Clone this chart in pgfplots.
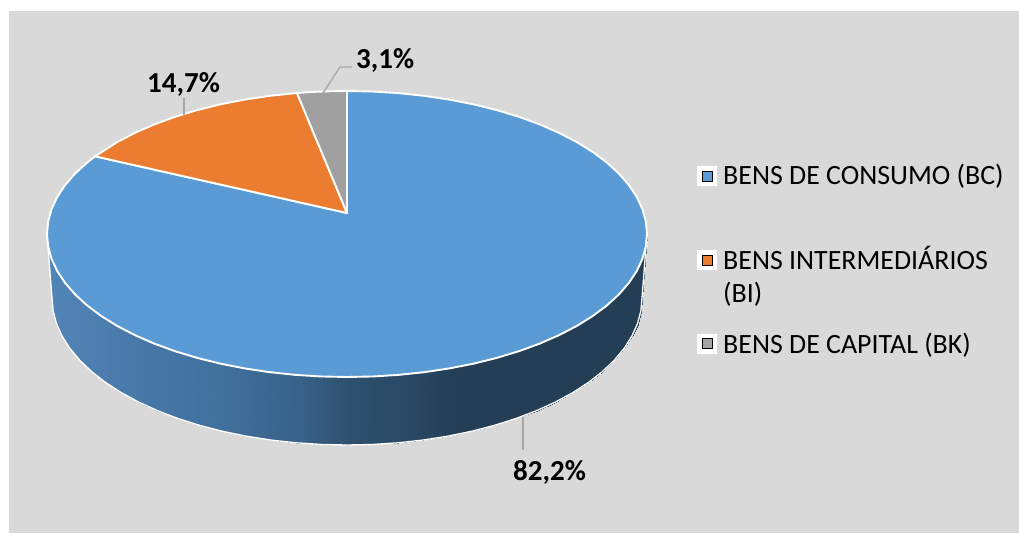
\documentclass[border=0pt]{standalone}
\usepackage{pgfplots}
\pgfplotsset{compat=1.18}
\usepackage{pgfplotstable}
\usepackage{fontspec}
\setmainfont{Carlito}
\definecolor{BC}{HTML}{5B9BD5}
\definecolor{BI}{HTML}{EC7C30}
\definecolor{BK}{HTML}{A5A5A5}
\definecolor{fundo}{HTML}{D9D9D9}
\definecolor{guia}{HTML}{A6A6A6}

% slices: angle round the top ellipse, k=1 on the rim, k=0 at the apex
\pgfplotstableread[row sep=\\]{
a k\\
90 1\\ 85 1\\ 80 1\\ 75 1\\ 70 1\\ 65 1\\ 60 1\\ 55 1\\ 50 1\\ 45 1\\ 40 1\\ 35 1\\ 30 1\\ 25 1\\ 20 1\\ 15 1\\ 10 1\\ 5 1\\ 0 1\\
-5 1\\ -10 1\\ -15 1\\ -20 1\\ -25 1\\ -30 1\\ -35 1\\ -40 1\\ -45 1\\ -50 1\\ -55 1\\ -60 1\\ -65 1\\ -70 1\\ -75 1\\ -80 1\\ -85 1\\ -90 1\\
-95 1\\ -100 1\\ -105 1\\ -110 1\\ -115 1\\ -120 1\\ -125 1\\ -130 1\\ -135 1\\ -140 1\\ -145 1\\ -150 1\\ -155 1\\ -160 1\\ -165 1\\ -170 1\\ -175 1\\ -180 1\\
-185 1\\ -190 1\\ -195 1\\ -200 1\\ -205 1\\ -210 1\\ -212.9 1\\ 0 0\\
}\fatiaBC
\pgfplotstableread[row sep=\\]{
a k\\
147.1 1\\ 140 1\\ 135 1\\ 130 1\\ 125 1\\ 120 1\\ 115 1\\ 110 1\\ 105 1\\ 99.6 1\\ 0 0\\
}\fatiaBI
\pgfplotstableread[row sep=\\]{
a k\\
99.6 1\\ 97 1\\ 94 1\\ 90 1\\ 0 0\\
}\fatiaBK
% side wall: b=0 on the top rim, b=1 on the lower rim
\pgfplotstableread[row sep=\\]{
a b\\
180 0\\ 185 0\\ 190 0\\ 195 0\\ 200 0\\ 205 0\\ 210 0\\ 215 0\\ 220 0\\ 225 0\\ 230 0\\ 235 0\\ 240 0\\ 245 0\\ 250 0\\ 255 0\\ 260 0\\ 265 0\\ 270 0\\
275 0\\ 280 0\\ 285 0\\ 290 0\\ 295 0\\ 300 0\\ 305 0\\ 310 0\\ 315 0\\ 320 0\\ 325 0\\ 330 0\\ 335 0\\ 340 0\\ 345 0\\ 350 0\\ 355 0\\ 360 0\\
180 1\\ 185 1\\ 190 1\\ 195 1\\ 200 1\\ 205 1\\ 210 1\\ 215 1\\ 220 1\\ 225 1\\ 230 1\\ 235 1\\ 240 1\\ 245 1\\ 250 1\\ 255 1\\ 260 1\\ 265 1\\ 270 1\\
275 1\\ 280 1\\ 285 1\\ 290 1\\ 295 1\\ 300 1\\ 305 1\\ 310 1\\ 315 1\\ 320 1\\ 325 1\\ 330 1\\ 335 1\\ 340 1\\ 345 1\\ 350 1\\ 355 1\\ 360 1\\
}\lateral
\pgfplotstableread[row sep=\\]{
a b\\
180 0\\ 180 1\\ 185 1\\ 190 1\\ 195 1\\ 200 1\\ 205 1\\ 210 1\\ 215 1\\ 220 1\\ 225 1\\ 230 1\\ 235 1\\ 240 1\\ 245 1\\ 250 1\\ 255 1\\ 260 1\\ 265 1\\ 270 1\\
275 1\\ 280 1\\ 285 1\\ 290 1\\ 295 1\\ 300 1\\ 305 1\\ 310 1\\ 315 1\\ 320 1\\ 325 1\\ 330 1\\ 335 1\\ 340 1\\ 345 1\\ 350 1\\ 355 1\\ 360 1\\ 360 0\\
}\contorno

\pgfplotsset{
  fatia/.style={draw=white,line width=1.9pt,line join=round,no marks},
  topo/.style={/pgfplots/table/x expr=347+300*\thisrow{k}*cos(\thisrow{a}),
    /pgfplots/table/y expr=234-21*(1-\thisrow{k})-143*\thisrow{k}*sin(\thisrow{a})},
  parede/.style={/pgfplots/table/x expr=347+(300-5*\thisrow{b})*cos(\thisrow{a}),
    /pgfplots/table/y expr=234+64*\thisrow{b}-(143+4*\thisrow{b})*sin(\thisrow{a})},
}

\begin{document}
\begin{tikzpicture}
\begin{axis}[
  x=1pt,y=1pt,
  xmin=0,xmax=1019,ymin=0,ymax=533,
  y dir=reverse,
  axis lines=none,
  scale only axis,
  clip=true,
  point meta min=47,point meta max=648,
  colormap={lado}{
    rgb255(47pt)=(82,133,184)
    rgb255(140pt)=(72,120,168)
    rgb255(220pt)=(64,112,156)
    rgb255(300pt)=(56,98,136)
    rgb255(350pt)=(46,80,110)
    rgb255(400pt)=(42,74,102)
    rgb255(460pt)=(35,62,85)
    rgb255(648pt)=(35,62,85)},
]
% background
\addplot[draw=none,fill=white] coordinates {(0,0) (1019,0) (1019,533) (0,533)} -- cycle;
\addplot[draw=none,fill=fundo] coordinates {(9,11) (1019,11) (1019,533) (9,533)} -- cycle;

% side wall
\addplot[surf,shader=interp,mesh/rows=2,mesh/cols=37,point meta=x] table[/pgfplots/parede] {\lateral};
\addplot[white,line width=1.3pt,line join=round,no marks] table[/pgfplots/parede] {\contorno};

% top
\addplot[fatia,fill=BC] table[/pgfplots/topo] {\fatiaBC} -- cycle;
\addplot[fatia,fill=BI] table[/pgfplots/topo] {\fatiaBI} -- cycle;
\addplot[fatia,fill=BK!97!black] table[/pgfplots/topo] {\fatiaBK} -- cycle;

% leader lines
\addplot[guia,line width=1.3pt,no marks] coordinates {(184,98) (184,115)};
\addplot[guia,line width=1.3pt,no marks] coordinates {(323,93) (340,67) (352,67)};
\addplot[guia,line width=1.3pt,no marks] coordinates {(523,417) (523,450)};

\node[anchor=base west,inner sep=0pt,font=\fontsize{29}{29}\selectfont\bfseries] at (axis cs:147,92) {14,7\%};
\node[anchor=base west,inner sep=0pt,font=\fontsize{29}{29}\selectfont\bfseries] at (axis cs:356,68) {3,1\%};
\node[anchor=base west,inner sep=0pt,font=\fontsize{29}{29}\selectfont\bfseries] at (axis cs:513,480) {82,2\%};

% legend
\addplot[only marks,mark=square*,mark size=9.5pt,mark options={draw=white,fill=white,rounded corners=1.5pt}] coordinates {(707,176) (707,260) (707,343.5)};
\addplot[only marks,mark=square*,mark size=5pt,mark options={draw=none,fill=BC}] coordinates {(707,176)};
\addplot[only marks,mark=square*,mark size=5pt,mark options={draw=none,fill=BI}] coordinates {(707,260)};
\addplot[only marks,mark=square*,mark size=5pt,mark options={draw=none,fill=BK}] coordinates {(707,343.5)};
\node[anchor=base west,inner sep=0pt,font=\fontsize{27.9}{28}\selectfont] at (axis cs:723,184.5) {BENS DE CONSUMO (BC)};
\node[anchor=base west,inner sep=0pt,font=\fontsize{27.9}{28}\selectfont] at (axis cs:723,269) {BENS INTERMEDIÁRIOS};
\node[anchor=base west,inner sep=0pt,font=\fontsize{27.9}{28}\selectfont] at (axis cs:723,302) {(BI)};
\node[anchor=base west,inner sep=0pt,font=\fontsize{27.9}{28}\selectfont] at (axis cs:723,353) {BENS DE CAPITAL (BK)};
\end{axis}
\end{tikzpicture}
\end{document}
